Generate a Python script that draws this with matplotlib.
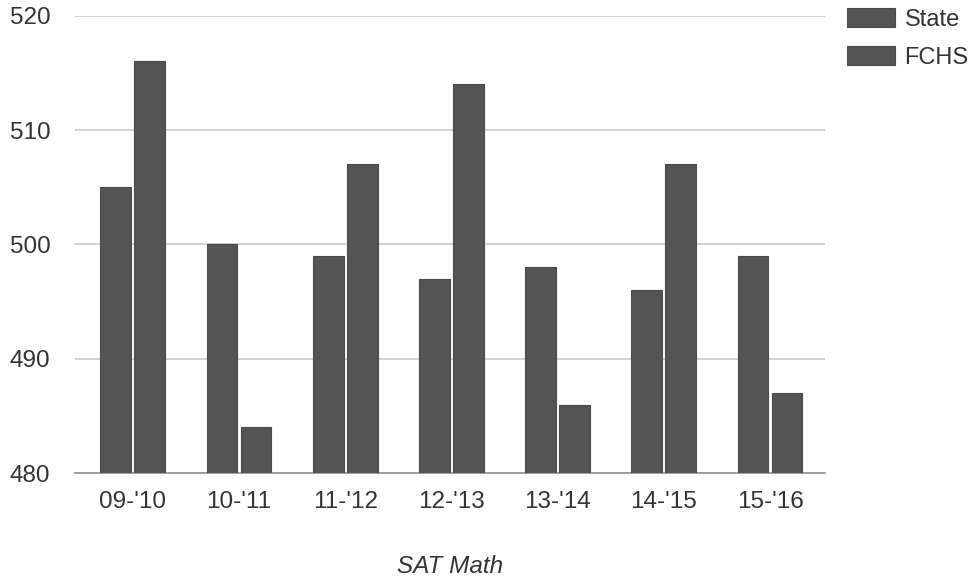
import matplotlib
matplotlib.use("Agg")
import matplotlib.pyplot as plt
import numpy as np

# SAT Math average scores by school year
years = ["09-'10", "10-'11", "11-'12", "12-'13", "13-'14", "14-'15", "15-'16"]
state = [505, 500, 499, 497, 498, 496, 499]
fchs = [516, 484, 507, 514, 486, 507, 487]
y_ticks = [480, 490, 500, 510, 520]

plt.rcParams['font.family'] = ['Liberation Sans', 'DejaVu Sans']

bar_color = "#545454"
text_color = "#333333"
fs = 17.5

fig = plt.figure(figsize=(9.79, 5.82), dpi=100)
ax = fig.add_axes([0.077, 0.187, 0.766, 0.786])

x = np.arange(len(years))
w = 0.29
off = 0.16
ax.bar(x - off, [v - 480 for v in state], bottom=480, width=w, color=bar_color,
       edgecolor="#4a4a4a", linewidth=0.8, label="State", zorder=3)
ax.bar(x + off, [v - 480 for v in fchs], bottom=480, width=w, color=bar_color,
       edgecolor="#4a4a4a", linewidth=0.8, label="FCHS", zorder=3)

ax.set_ylim(480, 520)
ax.set_xlim(-0.54, 6.52)
ax.set_yticks(y_ticks)
ax.set_yticklabels([str(t) for t in y_ticks], fontsize=fs, color=text_color)
ax.set_xticks(x)
ax.set_xticklabels(years, fontsize=fs, color=text_color)
ax.tick_params(axis='both', length=0)
ax.tick_params(axis='y', pad=18)
ax.tick_params(axis='x', pad=13)

ax.grid(axis='y', color="#c9c9c9", linewidth=1.2, zorder=0)
for s in ["top", "right", "left"]:
    ax.spines[s].set_visible(False)
ax.spines["bottom"].set_color("#9a9a9a")
ax.spines["bottom"].set_linewidth(1.3)

ax.set_xlabel("SAT Math", fontsize=fs, style="italic", color=text_color, labelpad=30)

fig.legend(loc="upper left", bbox_to_anchor=(0.843, 1.022), frameon=False,
           fontsize=17, handlelength=2.05, handleheight=0.85, handletextpad=0.4,
           labelspacing=0.65, labelcolor=text_color)

fig.savefig("out.png", dpi=100, facecolor="white")
